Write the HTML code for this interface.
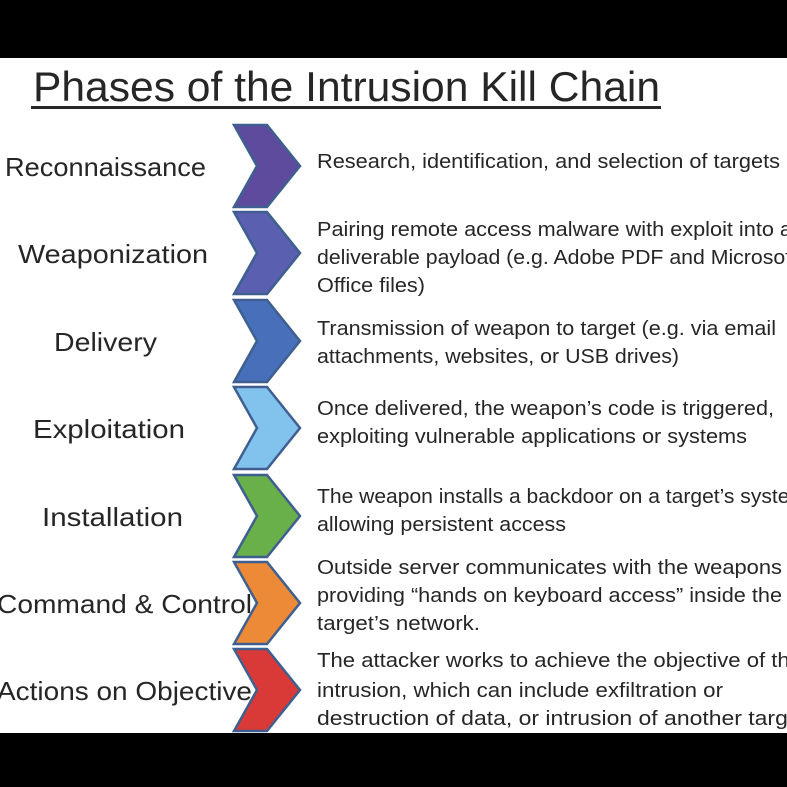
<!DOCTYPE html>
<html><head><meta charset="utf-8"><style>
html,body{margin:0;padding:0;background:#fff;}
svg{display:block;}
text{font-family:"Liberation Sans",sans-serif;fill:#262626;}
</style></head><body>
<svg width="787" height="787" viewBox="0 0 787 787" xmlns="http://www.w3.org/2000/svg">
<rect x="0" y="0" width="787" height="787" fill="#fff"/>
<rect x="0" y="0" width="787" height="58" fill="#000"/>
<rect x="0" y="733" width="787" height="54" fill="#000"/>
<text x="33" y="101" font-size="42" textLength="627" lengthAdjust="spacingAndGlyphs">Phases of the Intrusion Kill Chain</text>
<rect x="31" y="106" width="630" height="3" fill="#262626"/>
<g stroke="#3e5f8f" stroke-width="2.5" stroke-linejoin="miter">
<path d="M234,125 L267,125 L300,166 L267,207 L234,207 L257,166 Z" fill="#5f4b9e"/>
<path d="M234,212 L267,212 L300,253 L267,294 L234,294 L257,253 Z" fill="#5b5fb0"/>
<path d="M234,300 L267,300 L300,341 L267,382 L234,382 L257,341 Z" fill="#4870ba"/>
<path d="M234,387 L267,387 L300,428 L267,469 L234,469 L257,428 Z" fill="#82c3ee"/>
<path d="M234,475 L267,475 L300,516 L267,557 L234,557 L257,516 Z" fill="#6ab04a"/>
<path d="M234,562 L267,562 L300,603 L267,644 L234,644 L257,603 Z" fill="#ec8a38"/>
<path d="M234,649 L267,649 L300,690 L267,731 L234,731 L257,690 Z" fill="#d93a37"/>
</g>
<g font-size="26">
<text x="5" y="176" textLength="201" lengthAdjust="spacingAndGlyphs">Reconnaissance</text>
<text x="18" y="263" textLength="190" lengthAdjust="spacingAndGlyphs">Weaponization</text>
<text x="54" y="351" textLength="103" lengthAdjust="spacingAndGlyphs">Delivery</text>
<text x="33" y="438" textLength="152" lengthAdjust="spacingAndGlyphs">Exploitation</text>
<text x="42" y="526" textLength="141" lengthAdjust="spacingAndGlyphs">Installation</text>
<text x="-3" y="613" textLength="255" lengthAdjust="spacingAndGlyphs">Command &amp; Control</text>
<text x="-3" y="700" textLength="255" lengthAdjust="spacingAndGlyphs">Actions on Objective</text>
</g>
<g font-size="20">
<text x="317" y="168" textLength="463" lengthAdjust="spacingAndGlyphs">Research, identification, and selection of targets</text>
<text x="317" y="236" textLength="475" lengthAdjust="spacingAndGlyphs">Pairing remote access malware with exploit into a</text>
<text x="317" y="264" textLength="480" lengthAdjust="spacingAndGlyphs">deliverable payload (e.g. Adobe PDF and Microsoft</text>
<text x="317" y="292" textLength="108" lengthAdjust="spacingAndGlyphs">Office files)</text>
<text x="317" y="335" textLength="459" lengthAdjust="spacingAndGlyphs">Transmission of weapon to target (e.g. via email</text>
<text x="317" y="363" textLength="362" lengthAdjust="spacingAndGlyphs">attachments, websites, or USB drives)</text>
<text x="317" y="415" textLength="457" lengthAdjust="spacingAndGlyphs">Once delivered, the weapon’s code is triggered,</text>
<text x="317" y="443" textLength="430" lengthAdjust="spacingAndGlyphs">exploiting vulnerable applications or systems</text>
<text x="317" y="503" textLength="490" lengthAdjust="spacingAndGlyphs">The weapon installs a backdoor on a target’s system</text>
<text x="317" y="531" textLength="249" lengthAdjust="spacingAndGlyphs">allowing persistent access</text>
<text x="317" y="574" textLength="465" lengthAdjust="spacingAndGlyphs">Outside server communicates with the weapons</text>
<text x="317" y="602" textLength="465" lengthAdjust="spacingAndGlyphs">providing “hands on keyboard access” inside the</text>
<text x="317" y="630" textLength="163" lengthAdjust="spacingAndGlyphs">target’s network.</text>
<text x="317" y="667" textLength="485" lengthAdjust="spacingAndGlyphs">The attacker works to achieve the objective of the</text>
<text x="317" y="697" textLength="406" lengthAdjust="spacingAndGlyphs">intrusion, which can include exfiltration or</text>
<text x="317" y="725" textLength="490" lengthAdjust="spacingAndGlyphs">destruction of data, or intrusion of another target</text>
</g>
<rect x="0" y="733" width="787" height="54" fill="#000"/>
</svg>
</body></html>
